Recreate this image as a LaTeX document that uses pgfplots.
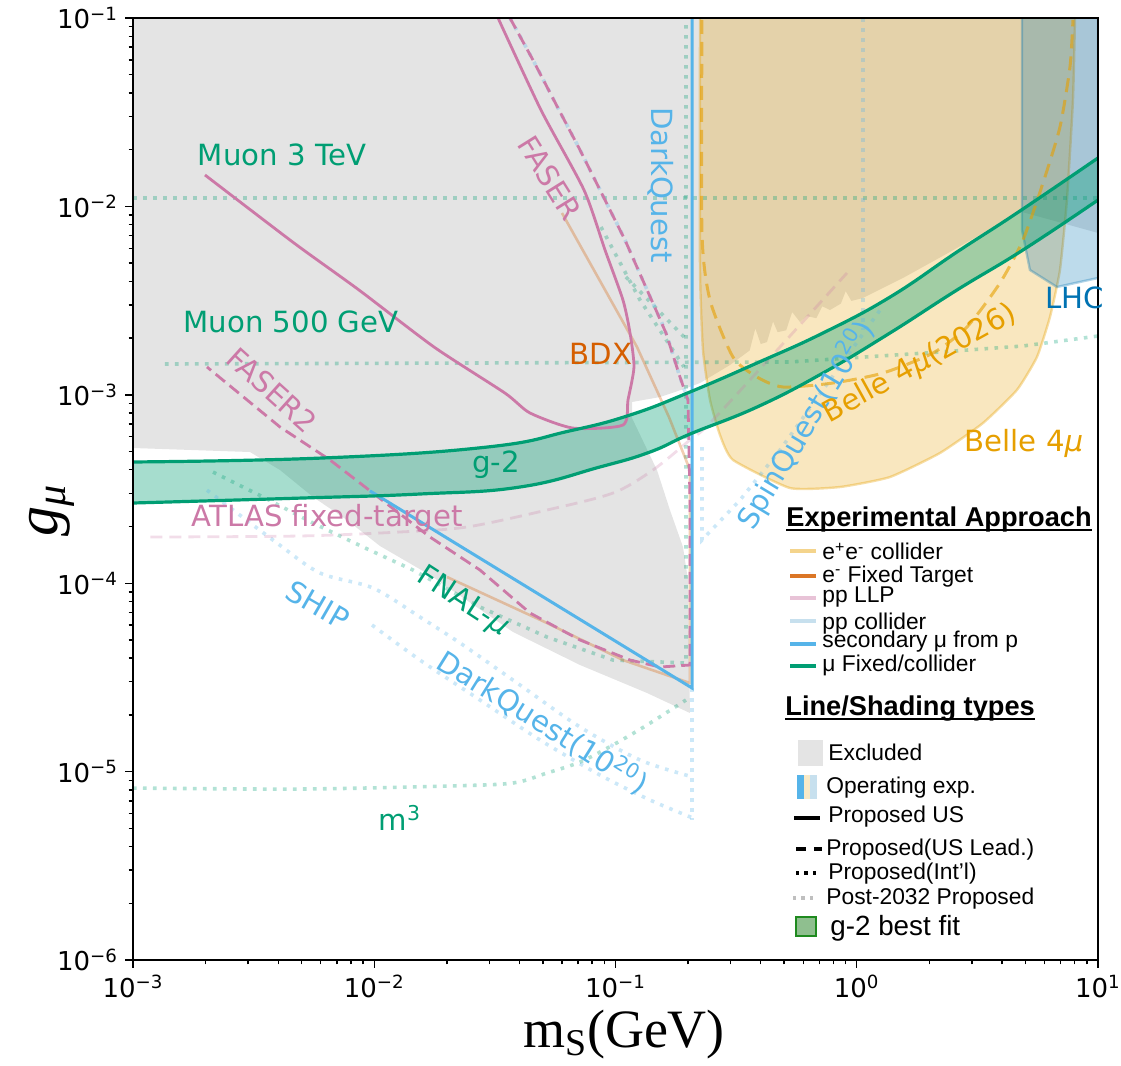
\documentclass[border=0pt]{standalone}
\usepackage{pgfplots}
\pgfplotsset{compat=1.18}
\usepackage{fontspec}
\setmainfont{DejaVu Sans}
\newfontfamily\arial{Liberation Sans}
\newfontfamily\tnr{Liberation Serif}
\definecolor{cgreen}{HTML}{009E73}
\definecolor{cpink}{HTML}{CC79A7}
\definecolor{cblue}{HTML}{56B4E9}
\definecolor{corange}{HTML}{E69F00}
\definecolor{cverm}{HTML}{D55E00}
\definecolor{cdblue}{HTML}{0072B2}
\definecolor{cgrey}{HTML}{E4E4E4}
\definecolor{fitfill}{HTML}{8FBF8F}
\definecolor{fitdraw}{HTML}{1F8A1F}
\newcommand{\lbl}{\fontsize{14.6}{17}\selectfont}
\newcommand{\leg}{\arial\fontsize{11.4}{13}\selectfont}
\tikzset{
  gdot/.style={draw=cgreen, draw opacity=0.3, line width=1.8pt, dash pattern=on 1.8pt off 3.2pt},
  bdot/.style={draw=cblue, draw opacity=0.3, line width=1.8pt, dash pattern=on 1.8pt off 3.2pt},
}
\begin{document}
\begin{tikzpicture}
\useasboundingbox (-66.5pt,-53pt) rectangle (494pt,480pt);
\begin{axis}[
  at={(0pt,0pt)}, anchor=south west,
  scale only axis, width=482.5pt, height=471pt,
  xmode=log, ymode=log,
  xmin=1e-3, xmax=10, ymin=1e-6, ymax=0.1,
  axis line style={line width=0.9pt},
  tick align=outside, xtick pos=bottom, ytick pos=left,
  major tick length=4pt, minor tick length=2.2pt,
  every tick/.style={black, line width=0.7pt},
  xtick={1e-3,1e-2,1e-1,1,10},
  minor xtick={2e-3,3e-3,4e-3,5e-3,6e-3,7e-3,8e-3,9e-3,2e-2,3e-2,4e-2,5e-2,6e-2,7e-2,8e-2,9e-2,0.2,0.3,0.4,0.5,0.6,0.7,0.8,0.9,2,3,4,5,6,7,8,9},
  xticklabels={10\textsuperscript{−3},10\textsuperscript{−2},10\textsuperscript{−1},10\textsuperscript{0},10\textsuperscript{1}},
  ytick={1e-6,1e-5,1e-4,1e-3,1e-2,1e-1},
  minor ytick={2e-6,3e-6,4e-6,5e-6,6e-6,7e-6,8e-6,9e-6,2e-5,3e-5,4e-5,5e-5,6e-5,7e-5,8e-5,9e-5,2e-4,3e-4,4e-4,5e-4,6e-4,7e-4,8e-4,9e-4,2e-3,3e-3,4e-3,5e-3,6e-3,7e-3,8e-3,9e-3,2e-2,3e-2,4e-2,5e-2,6e-2,7e-2,8e-2,9e-2},
  yticklabels={10\textsuperscript{−6},10\textsuperscript{−5},10\textsuperscript{−4},10\textsuperscript{−3},10\textsuperscript{−2},10\textsuperscript{−1}},
  tick label style={font=\fontsize{13}{15}\selectfont},
]
% excluded region
\addplot[fill=cgrey, draw=none] coordinates {
(1e-3,0.1) (10,0.1) (10,7.23e-3) (7.88,7.87e-3) (4.84,9.34e-3) (3.401,7.31e-3) (2.435,5.73e-3) (1.555,4.169e-3) (1.061,3.264e-3)
(0.95,3.15e-3) (0.90,3.55e-3) (0.86,3.05e-3) (0.7745,2.818e-3) (0.72,2.95e-3) (0.68,2.55e-3) (0.62,2.62e-3) (0.582,2.435e-3) (0.54,2.75e-3) (0.51,2.20e-3) (0.47,2.15e-3) (0.45,2.45e-3) (0.4246,1.906e-3) (0.40,1.86e-3) (0.38,2.25e-3) (0.36,1.72e-3)
(0.2983,1.439e-3) (0.224,1.155e-3) (0.1979,1.087e-3) (0.1529,9.73e-4) (0.1171,9.16e-4) (0.1171,7.53e-4) (0.1325,5.41e-4) (0.1486,3.99e-4) (0.1682,2.446e-4) (0.1905,1.557e-4) (0.1998,1.04e-4) (0.2036,2.046e-5) (0.1351,2.614e-5) (0.07128,3.68e-5) (0.03759,5.51e-5) (0.01702,1.105e-4) (0.01056,1.576e-4) (0.00771,2.165e-4) (0.005573,2.87e-4) (0.004067,3.99e-4) (0.003055,4.97e-4) (1e-3,5.22e-4)
};
% Belle 4mu
\addplot[fill=corange, fill opacity=0.25, draw=corange, draw opacity=0.35, line width=1.2pt, smooth, tension=0.3] coordinates {
(0.224,0.1) (0.224,4.768e-3) (0.2305,1.729e-3) (0.2465,9.38e-4) (0.2711,6.12e-4) (0.3069,4.51e-4) (0.529,3.2e-4) (0.852,3.24e-4) (1.373,3.66e-4) (2.214,4.91e-4) (3.337,7.08e-4) (4.615,1.061e-3) (5.586,1.587e-3) (6.324,2.588e-3) (6.957,4.597e-3) (7.437,1.081e-2) (7.879,3.672e-2) (8.031,0.1)
};
% LHC
\addplot[fill=cdblue, fill opacity=0.26, draw=cdblue, draw opacity=0.3, line width=1.2pt] coordinates {
(4.842,0.1) (4.842,7.495e-3) (5.224,4.597e-3) (6.761,3.734e-3) (10,4.169e-3) (10,0.1)
};
% g-2 band fill
\addplot[fill=cgreen, fill opacity=0.35, draw=none, smooth, tension=0.75] coordinates {
(9e-4,4.4e-4) (6.13e-3,4.62e-4) (2.934e-2,5.28e-4) (6.418e-2,6.42e-4) (0.1149,7.81e-4) (0.2036,1.035e-3) (0.386,1.475e-3) (0.7246,2.128e-3) (1.373,3.30e-3) (2.604,5.73e-3) (4.615,9.226e-3) (10,1.807e-2) (11,1.95e-2)
(11,1.17e-2) (10,1.081e-2) (4.886,5.869e-3) (2.604,3.60e-3) (1.373,2.128e-3) (0.7246,1.305e-3) (0.386,8.61e-4) (0.2036,6.19e-4) (0.139,4.97e-4) (8.627e-2,4.14e-4) (4.019e-2,3.24e-4) (1.547e-2,2.975e-4) (4.922e-3,2.83e-4) (9e-4,2.665e-4)
};
% green dotted
\addplot[gdot] coordinates {(1e-3,1.108e-2) (10,1.108e-2)};
\addplot[gdot] coordinates {(1.357e-3,1.457e-3) (0.529,1.494e-3) (2.214,1.687e-3) (4.886,1.816e-3) (10,2.051e-3)};
\addplot[gdot] coordinates {(2.146e-3,3.89e-4) (3.458e-3,2.87e-4) (5.573e-3,2.087e-4) (8.98e-3,1.557e-4) (1.447e-2,1.175e-4) (2.743e-2,7.48e-5) (5.2e-2,5.18e-5) (9.76e-2,3.91e-5) (0.196,3.77e-5) (0.196,0.1)};
\addplot[gdot, smooth] coordinates {(1e-3,8.18e-6) (4.922e-3,8.08e-6) (2.061e-2,8.39e-6) (3.759e-2,8.7e-6) (5.2e-2,9.83e-6) (7.128e-2,1.124e-5) (9.76e-2,1.384e-5) (0.1351,1.767e-5) (0.196,2.399e-5)};
\addplot[gdot] coordinates {(8.708e-2,7.776e-3) (0.1264,3.185e-3) (0.1923,1.405e-3)};
\addplot[gdot] coordinates {(0.1105,4.221e-3) (0.1979,1.954e-3)};
% light blue dotted
\addplot[bdot, smooth] coordinates {(3.653e-2,0.1) (4.55e-2,5.985e-2) (5.833e-2,3.249e-2) (7.128e-2,1.993e-2) (9.05e-2,1.081e-2) (0.1095,6.633e-3) (0.1313,3.921e-3) (0.1472,2.818e-3) (0.1619,2.128e-3) (0.1851,1.243e-3) (0.1998,9.38e-4)};
\addplot[bdot, smooth] coordinates {(2.026e-3,3.12e-4) (3.953e-3,1.634e-4) (5.96e-3,1.133e-4) (9.88e-3,9.43e-5) (1.547e-2,6.615e-5) (2.333e-2,4.7e-5) (4.019e-2,2.882e-5) (7.128e-2,1.725e-5) (0.1264,1.152e-5) (0.2096,9.36e-6)};
\addplot[bdot, smooth] coordinates {(9.79e-3,6.0e-5) (1.547e-2,3.91e-5) (2.743e-2,2.399e-5) (4.864e-2,1.472e-5) (8.627e-2,9.59e-6) (0.139,7.07e-6) (0.2096,5.67e-6)};
\addplot[bdot] coordinates {(0.2076,2.778e-5) (0.2076,5.535e-6)};
\addplot[bdot] coordinates {(1.061,0.1) (1.061,2.208e-3)};
\addplot[bdot] coordinates {(0.2283,5.28e-4) (0.2283,1.696e-4) (0.3282,2.76e-4) (0.4807,5.09e-4) (0.7745,1.198e-3) (1.249,2.818e-3)};
% ATLAS fixed target
\addplot[draw=cpink, draw opacity=0.25, line width=1.4pt, dash pattern=on 6pt off 3.5pt, smooth] coordinates {(1.18e-3,1.759e-4) (4.922e-3,1.781e-4) (1.279e-2,1.87e-4) (2.424e-2,1.988e-4) (5.2e-2,2.446e-4) (9.76e-2,3.01e-4) (0.143,3.99e-4) (0.2036,5.76e-4) (0.2465,7.08e-4) (0.4807,1.794e-3) (0.911,4.432e-3)};
% BDX
\addplot[draw=cverm, draw opacity=0.3, line width=1.3pt] coordinates {(6.0e-2,9.226e-3) (0.1228,1.794e-3) (0.1666,7.62e-4) (0.2036,3.99e-4) (0.2036,2.953e-5) (0.1074,3.91e-5) (5.2e-2,6.15e-5) (2.003e-2,1.079e-4)};
% Belle 2026 dashed
\addplot[draw=corange, draw opacity=0.6, line width=1.5pt, dash pattern=on 7pt off 4pt, smooth, tension=0.4] coordinates {(0.2283,9.76e-2) (0.2283,7.23e-3) (0.2465,3.185e-3) (0.3069,1.587e-3) (0.386,1.243e-3) (0.4946,1.1e-3) (0.797,1.155e-3) (1.285,1.305e-3) (2.071,1.667e-3) (2.864,2.291e-3) (3.924,3.921e-3) (4.886,6.633e-3) (5.916,1.331e-2) (6.957,2.639e-2) (7.656,5.495e-2) (7.879,9.76e-2)};
% FASER / FASER2 dashed
\addplot[draw=cpink, line width=1.4pt, dash pattern=on 6pt off 3pt] coordinates {(3.653e-2,0.1) (4.55e-2,5.985e-2) (5.833e-2,3.249e-2) (7.128e-2,1.993e-2) (9.05e-2,1.081e-2) (0.1095,6.633e-3) (0.1313,3.921e-3) (0.1472,2.818e-3) (0.1619,2.128e-3) (0.1851,1.243e-3) (0.1998,9.38e-4) (0.2036,2.76e-4) (0.2036,3.68e-5) (0.1529,3.59e-5) (0.1149,3.91e-5) (7.128e-2,4.995e-5) (4.421e-2,6.95e-5) (2.743e-2,1.175e-4) (1.702e-2,1.759e-4) (9.88e-3,3.01e-4) (6.556e-3,4.51e-4) (4.067e-3,6.75e-4) (2.026e-3,1.405e-3)};
% FASER solid
\addplot[draw=cpink, line width=1.4pt, smooth, tension=0.4] coordinates {(1.988e-3,1.468e-2) (4.649e-3,6.394e-3) (8.646e-3,3.6e-3) (1.769e-2,1.794e-3) (3.48e-2,1.022e-3) (4.421e-2,8.01e-4) (6.667e-2,6.66e-4) (0.1074,6.91e-4) (0.1127,9.38e-4) (0.1193,1.405e-3) (0.1149,2.128e-3) (0.1074,3.185e-3) (9.05e-2,5.869e-3) (7.405e-2,1.222e-2) (4.911e-2,3.249e-2) (3.26e-2,0.1)};
% DarkQuest
\addplot[draw=cblue, line width=1.5pt] coordinates {(9.6e-3,3.09e-4) (0.2076,2.778e-5) (0.2076,0.1)};
% g-2 band edges
\addplot[draw=cgreen, line width=1.6pt, smooth, tension=0.75] coordinates {
(1e-3,4.4e-4) (6.13e-3,4.62e-4) (2.934e-2,5.28e-4) (6.418e-2,6.42e-4) (0.1149,7.81e-4) (0.2036,1.035e-3) (0.386,1.475e-3) (0.7246,2.128e-3) (1.373,3.30e-3) (2.604,5.73e-3) (4.615,9.226e-3) (10,1.807e-2)
};
\addplot[draw=cgreen, line width=1.6pt, smooth, tension=0.75] coordinates {
(1e-3,2.665e-4) (4.922e-3,2.83e-4) (1.547e-2,2.975e-4) (4.019e-2,3.24e-4) (8.627e-2,4.14e-4) (0.139,4.97e-4) (0.2036,6.19e-4) (0.386,8.61e-4) (0.7246,1.305e-3) (1.373,2.128e-3) (2.604,3.60e-3) (4.886,5.869e-3) (10,1.081e-2)
};
\end{axis}
\draw[line width=0.9pt] (0pt,0pt) rectangle (482.5pt,471pt);
% annotation labels
\node[text=cgreen, font=\lbl] at (74.5pt,402.5pt) {Muon 3 TeV};
\node[text=cgreen, font=\lbl] at (79pt,319pt) {Muon 500 GeV};
\node[text=cpink, font=\lbl, rotate=-58] at (208.5pt,391pt) {FASER};
\node[text=cpink, font=\lbl, rotate=-42] at (69.5pt,285pt) {FASER2};
\node[text=cblue, font=\lbl, rotate=-90] at (264pt,387.5pt) {DarkQuest};
\node[text=cverm, font=\lbl] at (234pt,303pt) {BDX};
\node[text=cgreen, font=\lbl] at (181.5pt,247.5pt) {g-2};
\node[text=cpink, font=\lbl] at (97pt,221pt) {ATLAS fixed-target};
\node[text=cblue, font=\lbl, rotate=-30] at (92.5pt,177.5pt) {SHIP};
\node[text=cgreen, font=\lbl, rotate=-33] at (165pt,179pt) {FNAL-{\itshape μ}};
\node[text=cblue, font=\lbl, rotate=-32] at (205pt,119pt) {DarkQuest(10\textsuperscript{20})};
\node[text=cgreen, font=\lbl] at (133.5pt,71pt) {m\textsuperscript{3}};
\node[text=cblue, font=\lbl, rotate=59] at (336.5pt,267.5pt) {SpinQuest(10\textsuperscript{20})};
\node[text=corange, font=\lbl, rotate=29] at (393.5pt,298pt) {Belle 4{\itshape μ}(2026)};
\node[text=corange, font=\lbl] at (445.5pt,258.5pt) {Belle 4{\itshape μ}};
\node[text=cdblue, font=\lbl, anchor=west, inner sep=0pt] at (456pt,331pt) {LHC};
% axis labels
\node[font=\tnr\fontsize{27}{30}\selectfont] at (245.5pt,-37.5pt) {m\textsubscript{S}(GeV)};
\node[font=\tnr\itshape\fontsize{30}{34}\selectfont, rotate=90] at (-40.5pt,225pt) {g\textsubscript{μ}};
% legend
\node[font=\arial\bfseries\fontsize{13.6}{16}\selectfont, anchor=west, inner sep=0pt] at (326.5pt,220.5pt) {Experimental Approach};
\draw[line width=0.9pt] (326.5pt,215pt) -- (479.5pt,215pt);
\draw[corange!45, line width=2pt] (328.5pt,204.25pt) -- (341.5pt,204.25pt);
\node[font=\leg, anchor=west, inner sep=0pt] at (344.5pt,204.25pt) {e\textsuperscript{+}e\textsuperscript{-} collider};
\draw[cverm!85, line width=2pt] (328.5pt,192pt) -- (341.5pt,192pt);
\node[font=\leg, anchor=west, inner sep=0pt] at (344.5pt,191.5pt) {e\textsuperscript{-} Fixed Target};
\draw[cpink!45, line width=2pt] (328.5pt,181pt) -- (341.5pt,181pt);
\node[font=\leg, anchor=west, inner sep=0pt] at (344.5pt,181.5pt) {pp LLP};
\draw[cdblue!22, line width=2pt] (328.5pt,169.5pt) -- (341.5pt,169.5pt);
\node[font=\leg, anchor=west, inner sep=0pt] at (344.5pt,168pt) {pp collider};
\draw[cblue, line width=2pt] (328.5pt,158pt) -- (341.5pt,158pt);
\node[font=\leg, anchor=west, inner sep=0pt] at (344.5pt,159pt) {secondary μ from p};
\draw[cgreen, line width=2pt] (328.5pt,147pt) -- (341.5pt,147pt);
\node[font=\leg, anchor=west, inner sep=0pt] at (344.5pt,147.5pt) {μ Fixed/collider};
\node[font=\arial\bfseries\fontsize{13.6}{16}\selectfont, anchor=west, inner sep=0pt] at (326pt,125.5pt) {Line/Shading types};
\draw[line width=0.9pt] (326pt,120.5pt) -- (451pt,120.5pt);
\fill[cgrey] (332.5pt,97pt) rectangle (345pt,110pt);
\node[font=\leg, anchor=west, inner sep=0pt] at (347.5pt,104pt) {Excluded};
\fill[cblue] (332pt,80.5pt) rectangle (335.25pt,92.5pt);
\fill[corange!22] (335.25pt,80.5pt) rectangle (338.5pt,92.5pt);
\fill[cdblue!22] (338.5pt,80.5pt) rectangle (342pt,92.5pt);
\node[font=\leg, anchor=west, inner sep=0pt] at (346.5pt,86pt) {Operating exp.};
\draw[black, line width=2pt] (330.5pt,71pt) -- (343.5pt,71pt);
\node[font=\leg, anchor=west, inner sep=0pt] at (347.5pt,71.5pt) {Proposed US};
\draw[black, line width=2pt, dash pattern=on 5pt off 4pt] (331.5pt,55.3pt) -- (344.5pt,55.3pt);
\node[font=\leg, anchor=west, inner sep=0pt] at (346.5pt,55pt) {Proposed(US Lead.)};
\draw[black, line width=2pt, dash pattern=on 1.7pt off 2.5pt] (331.5pt,43.7pt) -- (342.5pt,43.7pt);
\node[font=\leg, anchor=west, inner sep=0pt] at (347.5pt,43pt) {Proposed(Int’l)};
\draw[black!25, line width=2pt, dash pattern=on 1.7pt off 2.5pt] (330pt,31.2pt) -- (342pt,31.2pt);
\node[font=\leg, anchor=west, inner sep=0pt] at (346.5pt,30.5pt) {Post-2032 Proposed};
\filldraw[fill=fitfill, draw=fitdraw, line width=1.1pt] (331.5pt,12pt) rectangle (341.5pt,21.5pt);
\node[font=\arial\fontsize{13.9}{16}\selectfont, anchor=west, inner sep=0pt] at (348.5pt,16pt) {g-2 best fit};
\end{tikzpicture}
\end{document}
